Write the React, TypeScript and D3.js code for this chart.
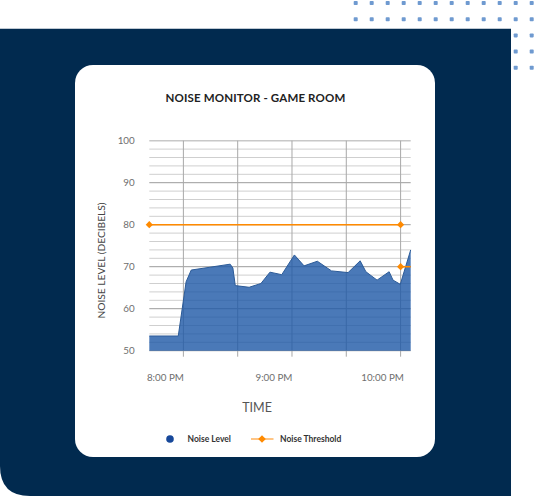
import React from "react";
import * as d3 from "d3";

const times = [
  "19:41:10", "19:57:10", "20:01:30", "20:04:20", "20:25:50", "20:27:20", "20:28:40",
  "20:36:20", "20:42:50", "20:47:50", "20:54:20", "21:01:20", "21:06:40", "21:14:00",
  "21:21:50", "21:31:00", "21:37:40", "21:40:50", "21:47:00", "21:53:40", "21:55:50",
  "21:59:50", "22:05:35",
];
const noiseLevels = [
  53.5, 53.5, 66.4, 69.2, 70.6, 69.7, 65.5, 65.1, 66.0, 68.7, 68.1, 72.8, 70.2, 71.3,
  69.0, 68.6, 71.4, 68.8, 66.8, 68.8, 66.8, 65.8, 74.0,
];
const thresholdTimesA = ["19:41:10", "22:00:00"];
const thresholdValuesA = [80, 80];
const thresholdTimesB = ["22:00:00", "22:05:35"];
const thresholdValuesB = [70, 70];
const yTickValues = [50, 60, 70, 80, 90, 100];
const xLabelTimes = ["20:00:00", "21:00:00", "22:00:00"];
const xTickLabels = ["8:00 PM", "9:00 PM", "10:00 PM"];
const title = "NOISE MONITOR - GAME ROOM";
const yTitle = "NOISE LEVEL (DECIBELS)";
const xTitle = "TIME";
const legendLabels = ["Noise Level", "Noise Threshold"];

const W = 536;
const H = 496;
const FONT = "Lato, 'Open Sans', sans-serif";
const NAVY = "#012a4f";
const ORANGE = "#ff8a00";

const parse = d3.timeParse("%H:%M:%S");

export default function App() {
  const tData = times.map((t, i) => ({ t: parse(t)!, v: noiseLevels[i] }));
  const thrA = thresholdTimesA.map((t, i) => ({ t: parse(t)!, v: thresholdValuesA[i] }));
  const thrB = thresholdTimesB.map((t, i) => ({ t: parse(t)!, v: thresholdValuesB[i] }));

  const left = 149.3, right = 410.7, top = 140.7, bottom = 350.7;
  const x = d3.scaleTime().domain(d3.extent(tData, (d) => d.t) as [Date, Date]).range([left, right]);
  const y = d3.scaleLinear().domain([50, 100]).range([bottom, top]);

  const area = d3.area<{ t: Date; v: number }>().x((d) => x(d.t)).y0(y(50)).y1((d) => y(d.v));
  const line = d3.line<{ t: Date; v: number }>().x((d) => x(d.t)).y((d) => y(d.v));

  const minorY = y.ticks(25);
  const vTicks = x.ticks(d3.timeMinute.every(30)!);

  const diamond = (cx: number, cy: number, r: number) =>
    `M${cx},${cy - r}L${cx + r},${cy}L${cx},${cy + r}L${cx - r},${cy}Z`;

  const dotCols = d3.range(12).map((i) => 355.7 + i * 16);
  const dotRows = d3.range(5).map((i) => 3 + i * 16.2);

  const navyPath = `M0,28.7 L511,28.7 L511,${H} L30,${H} Q0,${H} 0,${H - 30} Z`;

  return (
    <svg width={W} height={H} style={{ position: "fixed", left: 0, top: 0, background: "#fff" }} fontFamily={FONT}>
      <rect x={0} y={0} width={W} height={H} fill="#fff" />
      {dotRows.map((ry) =>
        dotCols.map((cx) => (
          <rect key={`${ry}-${cx}`} x={cx - 2} y={ry - 2} width={4} height={4} rx={0.8} fill="#6f9ad0" />
        ))
      )}
      <path d={navyPath} fill={NAVY} />
      <rect x={75} y={65} width={360} height={392} rx={18} ry={18} fill="#fff" />

      <text x={255.5} y={102} textAnchor="middle" fontSize={11.5} fontWeight={700} fill="#222" letterSpacing={0.15}>
        {title}
      </text>

      {minorY.map((v) => (
        <line
          key={`h${v}`}
          x1={left}
          x2={right}
          y1={y(v)}
          y2={y(v)}
          stroke={v % 10 === 0 ? (v === 100 ? "#c8c8c8" : "#9c9c9c") : "#cfcfcf"}
          strokeWidth={v === 100 ? 1.6 : 1}
        />
      ))}
      {vTicks.map((t, i) => (
        <line key={`v${i}`} x1={x(t)} x2={x(t)} y1={top} y2={bottom + 6} stroke="#a8a8a8" strokeWidth={1} />
      ))}

      <path d={area(tData)!} fill="#1d58a6" fillOpacity={0.8} />
      <path d={line(tData)!} fill="none" stroke="#2c5b98" strokeWidth={1} />

      <path d={line(thrA)!} fill="none" stroke={ORANGE} strokeWidth={1.6} />
      <path d={line(thrB)!} fill="none" stroke={ORANGE} strokeWidth={1.6} />
      {[thrA[0], thrA[1], thrB[0]].map((d, i) => (
        <path key={`m${i}`} d={diamond(x(d.t), y(d.v), 3.6)} fill={ORANGE} />
      ))}

      {yTickValues.map((v) => (
        <text key={`yt${v}`} x={134.7} y={y(v)} dy="0.35em" textAnchor="end" fontSize={9.8} fill="#6e6e6e">
          {v}
        </text>
      ))}
      {xLabelTimes.map((t, i) => (
        <text key={`xt${i}`} x={x(parse(t)!) - 18} y={381} textAnchor="middle" fontSize={9.8} fill="#6e6e6e">
          {xTickLabels[i]}
        </text>
      ))}

      <text transform={`translate(105,260.5) rotate(-90)`} textAnchor="middle" fontSize={10.2} fill="#444">
        {yTitle}
      </text>
      <text x={257} y={412} textAnchor="middle" fontSize={12.5} fill="#555">
        {xTitle}
      </text>

      <circle cx={170} cy={439} r={3.8} fill="#17489a" />
      <text x={187.5} y={439} dy="0.35em" fontSize={8.5} fontWeight={700} fill="#333">
        {legendLabels[0]}
      </text>
      <line x1={251} x2={273.5} y1={439} y2={439} stroke="#ffb766" strokeWidth={1.6} />
      <path d={diamond(262, 439, 3.8)} fill={ORANGE} />
      <text x={280} y={439} dy="0.35em" fontSize={8.5} fontWeight={700} fill="#333">
        {legendLabels[1]}
      </text>
    </svg>
  );
}
